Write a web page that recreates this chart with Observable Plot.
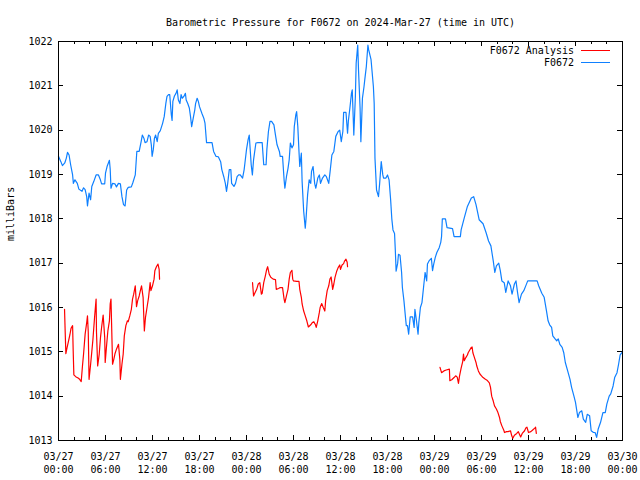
<!DOCTYPE html>
<html><head><meta charset="utf-8">
<script src="https://cdn.jsdelivr.net/npm/d3@7"></script>
<script src="https://cdn.jsdelivr.net/npm/@observablehq/plot@0.6"></script>
<style>body{margin:0;background:#fff} svg{display:block}</style>
</head><body><div id="chart"></div>
<script>
const title = "Barometric Pressure for F0672 on 2024-Mar-27 (time in UTC)";
const yLabel = "milliBars";
const seriesNames = ["F0672 Analysis", "F0672"];
const seriesColors = ["#ff0000", "#0f80ff"];

const xTickHours = [0, 6, 12, 18, 24, 30, 36, 42, 48, 54, 60, 66, 72];
const xTickDates = ["03/27","03/27","03/27","03/27","03/28","03/28","03/28","03/28","03/29","03/29","03/29","03/29","03/30"];
const xTickTimes = ["00:00","06:00","12:00","18:00","00:00","06:00","12:00","18:00","00:00","06:00","12:00","18:00","00:00"];
const yTicks = [1013, 1014, 1015, 1016, 1017, 1018, 1019, 1020, 1021, 1022];

// F0672 observations (hours since 03/27 00:00 UTC)
const obsHours = [0.0,0.3,0.5,0.8,1.0,1.15,1.35,1.55,1.8,1.9,2.1,2.4,2.6,3.0,3.2,3.4,3.6,3.7,3.9,4.1,4.25,4.5,4.8,5.1,5.35,5.5,5.9,6.0,6.2,6.5,6.6,6.7,6.9,7.2,7.4,7.65,7.9,8.1,8.3,8.5,8.7,8.9,9.3,9.5,9.8,10.0,10.3,10.55,10.7,10.9,11.05,11.3,11.5,11.7,11.85,11.95,12.1,12.25,12.4,12.6,12.75,13.0,13.3,13.5,13.7,13.85,14.05,14.2,14.4,14.5,14.6,14.8,15.0,15.15,15.3,15.5,15.65,15.8,16.0,16.2,16.3,16.5,16.7,16.85,17.0,17.2,17.4,17.5,17.7,17.85,18.0,18.3,18.55,18.7,18.9,19.6,19.8,20.1,20.4,20.7,20.85,21.1,21.3,21.45,21.6,21.8,22.0,22.1,22.4,22.6,22.8,23.0,23.2,23.5,23.7,23.8,24.0,24.2,24.35,24.6,24.75,24.9,25.2,25.45,25.8,26.0,26.2,26.5,26.6,26.8,27.0,27.2,27.5,27.7,27.9,28.2,28.3,28.6,28.8,28.9,29.1,29.3,29.45,29.6,29.8,30.0,30.1,30.3,30.4,30.55,30.7,30.8,31.0,31.1,31.3,31.5,31.6,31.8,32.0,32.2,32.3,32.5,32.7,32.85,33.1,33.3,33.45,33.7,34.0,34.2,34.5,34.7,34.9,35.15,35.4,35.7,35.9,36.1,36.3,36.4,36.7,36.9,37.0,37.2,37.4,37.5,37.7,37.9,38.0,38.2,38.3,38.5,38.6,38.8,39.0,39.1,39.3,39.5,39.6,39.9,40.2,40.3,40.4,40.6,40.85,41.0,41.2,41.4,41.5,41.8,42.0,42.2,42.4,42.55,42.7,42.9,43.0,43.1,43.3,43.4,43.6,43.8,43.9,44.1,44.3,44.4,44.55,44.7,44.9,45.2,45.4,45.5,45.7,45.9,46.0,46.2,46.4,46.6,46.8,47.0,47.1,47.3,47.6,47.75,47.9,48.1,48.3,48.6,48.8,48.9,49.0,49.4,49.6,50.3,50.5,51.3,51.4,51.8,52.2,52.7,53.0,53.3,53.7,54.2,54.6,54.9,55.2,55.5,55.7,55.9,56.2,56.4,56.6,56.9,57.1,57.4,57.7,57.9,58.2,58.4,58.6,58.8,59.1,59.4,59.7,59.9,61.1,61.3,61.7,62.0,62.3,62.5,62.7,62.95,63.1,63.4,63.6,63.8,64.0,64.3,64.5,64.7,65.0,65.3,65.5,65.8,66.0,66.3,66.5,66.8,67.0,67.3,67.5,67.8,68.0,68.3,68.5,68.7,68.9,69.2,69.5,69.8,70.0,70.3,70.5,70.8,71.0,71.3,71.5,71.7,72.0];
const obsValues = [1019.41,1019.29,1019.2,1019.26,1019.37,1019.5,1019.44,1019.22,1018.99,1018.8,1018.88,1018.8,1018.67,1018.62,1018.7,1018.66,1018.5,1018.29,1018.58,1018.43,1018.73,1018.84,1018.99,1018.99,1018.88,1018.79,1018.79,1019.03,1019.18,1019.32,1019.12,1018.69,1018.8,1018.79,1018.72,1018.8,1018.79,1018.5,1018.32,1018.29,1018.65,1018.71,1018.72,1018.82,1018.99,1019.52,1019.52,1019.74,1019.89,1019.82,1019.72,1019.74,1019.89,1019.86,1019.67,1019.41,1019.56,1019.82,1019.89,1019.74,1019.93,1019.99,1020.16,1020.31,1020.6,1020.76,1020.8,1020.8,1020.35,1020.22,1020.65,1020.77,1020.83,1020.91,1020.68,1020.6,1020.8,1020.72,1020.76,1020.83,1020.68,1020.6,1020.5,1020.31,1020.08,1020.27,1020.46,1020.6,1020.72,1020.65,1020.53,1020.38,1020.27,1020.16,1019.72,1019.72,1019.52,1019.41,1019.4,1019.29,1019.11,1018.95,1018.8,1018.62,1018.8,1019.11,1019.11,1018.8,1018.73,1018.8,1018.95,1018.99,1018.99,1018.92,1019.11,1019.26,1019.56,1019.78,1019.89,1019.22,1018.99,1019.33,1019.71,1019.72,1019.72,1019.72,1019.22,1019.22,1019.56,1019.97,1020.2,1020.2,1020.12,1019.89,1019.67,1019.52,1019.41,1019.41,1018.88,1018.69,1018.95,1019.14,1019.33,1019.71,1019.6,1019.67,1020.08,1020.35,1020.42,1020.08,1019.52,1019.18,1019.48,1018.84,1018.17,1017.79,1018.0,1018.54,1018.88,1018.8,1019.07,1019.18,1018.8,1018.69,1018.92,1018.99,1018.8,1018.92,1018.99,1018.95,1018.8,1019.11,1019.44,1019.52,1019.86,1019.97,1020.0,1019.74,1019.97,1020.4,1020.4,1019.93,1020.2,1020.5,1020.83,1020.91,1019.89,1020.76,1021.51,1021.92,1021.36,1020.5,1019.74,1020.72,1020.98,1021.14,1021.44,1021.92,1021.81,1021.59,1020.98,1020.6,1019.37,1018.65,1018.5,1018.8,1019.29,1018.99,1018.92,1018.92,1018.99,1018.88,1018.43,1018.0,1017.75,1017.67,1017.28,1016.82,1017.0,1017.2,1017.18,1016.79,1016.45,1016.15,1015.77,1015.59,1015.59,1015.4,1015.79,1015.79,1015.55,1015.96,1015.7,1015.4,1015.66,1016.0,1016.11,1016.45,1016.79,1016.6,1016.98,1017.05,1017.11,1016.83,1016.98,1017.13,1017.24,1017.35,1017.47,1017.6,1018.0,1018.0,1017.8,1017.78,1017.6,1017.6,1017.75,1018.02,1018.28,1018.47,1018.5,1018.32,1017.98,1017.89,1017.68,1017.5,1017.39,1017.05,1016.79,1016.94,1017.0,1016.83,1016.6,1016.56,1016.34,1016.6,1016.49,1016.3,1016.53,1016.6,1016.34,1016.11,1016.3,1016.38,1016.51,1016.6,1016.6,1016.49,1016.32,1016.23,1015.92,1015.7,1015.61,1015.55,1015.36,1015.29,1015.25,1015.29,1015.17,1015.1,1014.98,1014.76,1014.57,1014.38,1014.2,1014.0,1013.86,1013.52,1013.63,1013.67,1013.48,1013.41,1013.59,1013.56,1013.22,1013.18,1013.18,1013.07,1013.26,1013.41,1013.63,1013.63,1013.82,1014.0,1014.05,1014.23,1014.42,1014.53,1014.72,1014.93,1015.0];

// F0672 Analysis (null marks a gap between runs)
const anaHours = [0.77,0.85,0.94,1.1,1.3,1.45,1.6,1.8,1.87,1.96,2.2,2.5,2.7,2.9,3.06,3.2,3.4,3.6,3.7,3.8,3.9,4.1,4.25,4.4,4.6,4.8,4.85,5.0,5.2,5.36,5.5,5.7,5.9,5.96,6.1,6.3,6.5,6.6,6.7,6.8,6.9,7.06,7.2,7.4,7.66,7.83,7.9,8.1,8.26,8.4,8.6,8.8,8.9,9.1,9.3,9.45,9.6,9.8,9.96,10.1,10.3,10.45,10.6,10.8,10.9,10.96,11.1,11.3,11.5,11.7,11.8,12.0,12.2,12.3,12.5,12.7,12.85,12.9,
  18,
  24.77,24.9,25.1,25.3,25.5,25.7,25.9,26.0,26.2,26.4,26.55,26.7,26.9,27.1,27.4,27.7,27.8,28.1,28.3,28.6,28.8,28.9,29.1,29.3,29.45,29.6,29.8,29.9,30.0,30.4,30.7,30.8,31.0,31.1,31.3,31.5,31.7,31.9,32.2,32.4,32.6,32.8,32.9,33.1,33.3,33.4,33.6,33.8,34.0,34.1,34.3,34.5,34.65,34.8,35.0,35.15,35.3,35.5,35.7,35.9,36.0,36.2,36.4,36.5,36.7,36.85,36.9,
  42,
  48.7,48.9,49.2,49.5,49.9,49.96,50.2,50.5,50.7,50.9,51.06,51.2,51.4,51.6,51.7,51.8,52.0,52.2,52.3,52.5,52.7,52.8,52.9,53.1,53.3,53.4,53.6,53.8,54.0,54.2,54.5,54.7,55.0,55.15,55.3,55.5,55.66,55.9,56.1,56.3,56.4,56.6,56.85,56.94,57.2,57.4,57.7,57.87,58.0,58.2,58.5,58.7,59.0,59.2,59.5,59.66,59.8,60.0,60.3,60.5,60.8,60.9,61.0];
const anaValues = [1015.96,1015.47,1014.96,1015.1,1015.26,1015.38,1015.53,1015.59,1015.06,1014.48,1014.44,1014.41,1014.38,1014.33,1014.68,1014.95,1015.4,1015.66,1015.81,1015.44,1014.38,1014.72,1015.0,1015.29,1015.77,1016.19,1015.44,1014.68,1014.95,1015.32,1015.55,1015.83,1015.32,1014.76,1015.06,1015.47,1015.7,1016.08,1016.19,1015.47,1014.72,1014.83,1014.95,1015.06,1015.17,1014.83,1014.38,1014.72,1014.95,1015.36,1015.59,1015.7,1015.68,1015.81,1015.96,1016.19,1016.3,1016.49,1016.02,1016.15,1016.26,1016.38,1016.49,1016.23,1015.74,1015.47,1015.77,1016.0,1016.23,1016.56,1016.38,1016.49,1016.64,1016.83,1016.92,1016.98,1016.86,1016.64,
  null,
  1016.56,1016.26,1016.34,1016.41,1016.53,1016.56,1016.3,1016.32,1016.56,1016.71,1016.84,1016.92,1016.75,1016.68,1016.64,1016.63,1016.41,1016.43,1016.45,1016.45,1016.19,1016.11,1016.26,1016.41,1016.64,1016.79,1016.84,1016.64,1016.6,1016.59,1016.59,1016.41,1016.23,1016.08,1015.92,1015.81,1015.7,1015.56,1015.61,1015.66,1015.68,1015.61,1015.55,1015.7,1015.89,1016.0,1016.09,1016.0,1015.92,1016.15,1016.38,1016.49,1016.64,1016.69,1016.41,1016.53,1016.68,1016.81,1016.9,1016.96,1016.86,1016.96,1016.99,1017.04,1017.09,1017.02,1016.92,
  null,
  1014.65,1014.53,1014.57,1014.59,1014.61,1014.35,1014.37,1014.42,1014.46,1014.43,1014.29,1014.46,1014.63,1014.78,1014.95,1014.8,1014.87,1014.93,1014.98,1015.04,1015.1,1015.11,1014.98,1014.87,1014.76,1014.68,1014.57,1014.5,1014.46,1014.42,1014.38,1014.36,1014.3,1014.2,1014.0,1013.89,1013.78,1013.71,1013.63,1013.52,1013.43,1013.33,1013.23,1013.18,1013.2,1013.2,1013.22,1013.1,1013.05,1013.12,1013.16,1013.2,1013.08,1013.16,1013.22,1013.28,1013.3,1013.18,1013.2,1013.23,1013.28,1013.3,1013.16];

const obs = obsHours.map((h, i) => ({h, v: obsValues[i]}));
const ana = anaHours.map((h, i) => ({h, v: anaValues[i]}));
const minorHours = d3.range(0, 73, 2).filter(h => h % 6 !== 0);

const W = 640, H = 480, mL = 58, mR = 18, mT = 41, mB = 40;
const innerW = W - mL - mR, innerH = H - mT - mB;
const font = "'DejaVu Sans Mono', monospace";

function legend(index, scales, values, dims) {
  const g = d3.create("svg:g").attr("font-family", font).attr("font-size", 10);
  const rows = [{name: seriesNames[0], color: seriesColors[0]}, {name: seriesNames[1], color: seriesColors[1]}];
  rows.forEach((r, i) => {
    const y = dims.marginTop + 9 + i * 12.7;
    const xr = dims.width - dims.marginRight;
    g.append("text").attr("x", xr - 48).attr("y", y).attr("dy", "0.35em")
      .attr("text-anchor", "end").attr("fill", "black").text(r.name);
    g.append("line").attr("x1", xr - 41).attr("x2", xr - 12).attr("y1", y).attr("y2", y)
      .attr("stroke", r.color).attr("stroke-width", 1).attr("shape-rendering", "crispEdges");
  });
  return g.node();
}

const chart = Plot.plot({
  width: W, height: H,
  marginLeft: mL, marginRight: mR, marginTop: mT, marginBottom: mB,
  style: {fontFamily: font, fontSize: "10px", background: "white", color: "black"},
  x: {domain: [0, 72], axis: null},
  y: {domain: [1013, 1022], axis: null},
  marks: [
    // ticks (inward, mirrored)
    Plot.ruleX(xTickHours, {x: d => d, insetTop: innerH - 5, stroke: "black", shapeRendering: "crispEdges"}),
    Plot.ruleX(xTickHours, {x: d => d, insetBottom: innerH - 5, stroke: "black", shapeRendering: "crispEdges"}),
    Plot.ruleX(minorHours, {x: d => d, insetTop: innerH - 3, stroke: "black", shapeRendering: "crispEdges"}),
    Plot.ruleX(minorHours, {x: d => d, insetBottom: innerH - 3, stroke: "black", shapeRendering: "crispEdges"}),
    Plot.ruleY(yTicks, {y: d => d, insetRight: innerW - 5, stroke: "black", shapeRendering: "crispEdges"}),
    Plot.ruleY(yTicks, {y: d => d, insetLeft: innerW - 5, stroke: "black", shapeRendering: "crispEdges"}),
    // data
    Plot.line(ana, {x: "h", y: "v", stroke: seriesColors[0], strokeWidth: 1.2, curve: "linear"}),
    Plot.line(obs, {x: "h", y: "v", stroke: seriesColors[1], strokeWidth: 1.2, curve: "linear"}),
    Plot.frame({stroke: "black", shapeRendering: "crispEdges"}),
    // tick labels
    Plot.text(yTicks, {y: d => d, text: d => String(d), frameAnchor: "left", dx: -6, textAnchor: "end", fill: "black"}),
    Plot.text(xTickHours, {x: d => d, text: (d, i) => xTickDates[i] + "\n" + xTickTimes[i], frameAnchor: "bottom", dy: 10, lineAnchor: "top", lineHeight: 1.3, fill: "black"}),
    // title and axis label
    Plot.text([title], {frameAnchor: "top", dy: -23, fill: "black"}),
    Plot.text([yLabel], {frameAnchor: "left", dx: -48, rotate: -90, fill: "black"}),
    legend
  ]
});
document.getElementById("chart").appendChild(chart);
</script>
</body></html>
